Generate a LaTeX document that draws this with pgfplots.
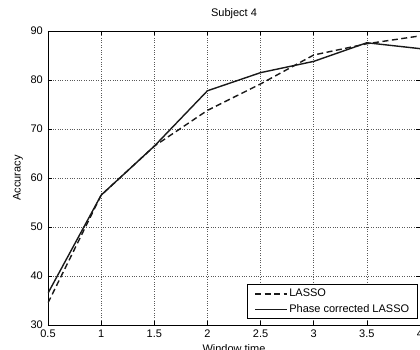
\documentclass[border=0pt]{standalone}
\usepackage{fontspec}
\setmainfont{Liberation Sans}
\usepackage{pgfplots}
\pgfplotsset{compat=1.18}
\begin{document}
\fontsize{11bp}{13bp}\selectfont
\begin{tikzpicture}
\useasboundingbox (0,0) rectangle (420bp,350bp);
\clip (0,0) rectangle (420bp,350bp);
\begin{axis}[
  at={(48bp,25bp)}, anchor=south west,
  scale only axis, width=372bp, height=294bp,
  xmin=0.5, xmax=4, ymin=30, ymax=90,
  xtick={0.5,1,1.5,2,2.5,3,3.5,4},
  ytick={30,40,50,60,70,80,90},
  grid=major,
  grid style={dotted, black!65, line width=0.5pt},
  tick align=inside, major tick length=4bp,
  tick style={black, line width=0.5pt},
  axis line style={black, line width=0.6pt},
  /pgf/number format/assume math mode=true,
  xticklabel style={inner sep=0pt, anchor=north, yshift=-4.5bp},
  yticklabel style={inner sep=0pt, anchor=east, xshift=-5bp},
  title={Subject 4},
  title style={at={(axis description cs:0.5,1)}, anchor=south, inner sep=0pt, yshift=6bp},
  xlabel={Window time},
  xlabel style={at={(axis description cs:0.5,0)}, anchor=north, inner sep=0pt, yshift=-19bp},
  ylabel={Accuracy},
  ylabel style={at={(axis description cs:-0.067,0.5)}, anchor=south, inner sep=0pt, rotate=0},
  legend image code/.code={\draw[#1] (0bp,0bp) -- (32bp,0bp);},
  legend cell align=left,
  legend style={at={(axis description cs:0.9946,0.0204)}, anchor=south east,
    draw=black, line width=0.6pt, fill=white,
    inner xsep=7bp, inner ysep=3bp, row sep=3bp,
    nodes={inner sep=1.5bp, anchor=west}},
]
\addplot[black!90, line width=1.4pt, dash pattern=on 6bp off 3.5bp] coordinates {
  (0.5,34.5) (1,56.5) (1.5,66.5) (2,73.8) (2.5,79.2) (3,85.1) (3.5,87.4) (4,89.0)};
\addlegendentry{LASSO}
\addplot[black!90, line width=1.4pt] coordinates {
  (0.5,36.5) (1,56.5) (1.5,66.5) (2,77.8) (2.5,81.5) (3,83.8) (3.5,87.6) (4,86.4)};
\addlegendentry{Phase corrected LASSO}
\end{axis}
\end{tikzpicture}
\end{document}
